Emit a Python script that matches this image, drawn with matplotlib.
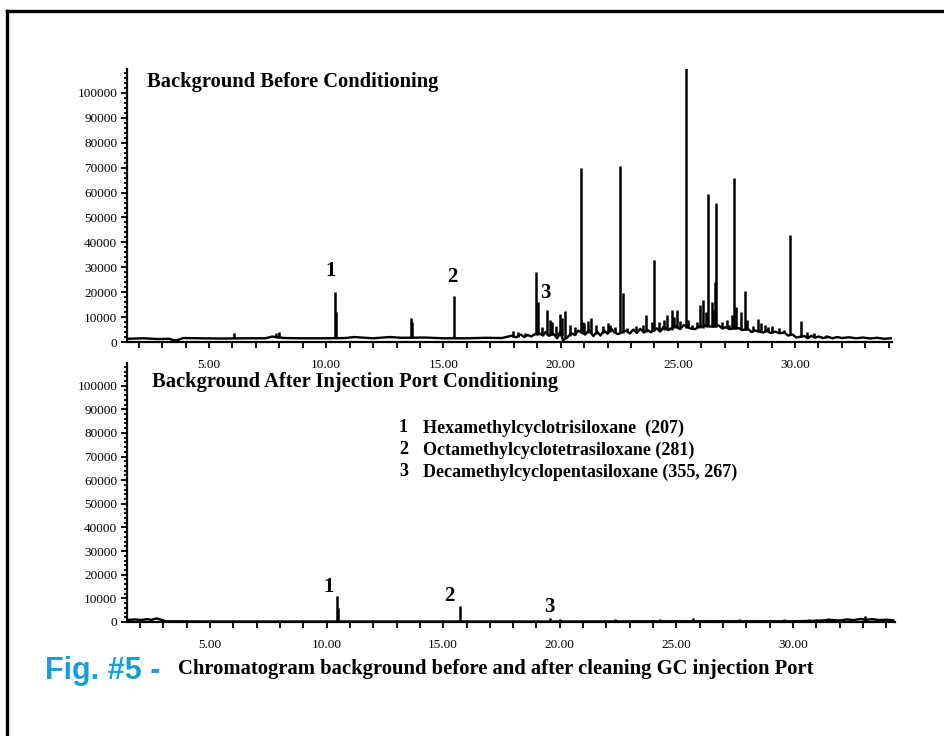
import matplotlib
matplotlib.use("Agg")
import matplotlib.pyplot as plt
from matplotlib.lines import Line2D
from matplotlib.ticker import MultipleLocator, FormatStrFormatter

plt.rcParams['font.family'] = ['Liberation Serif', 'DejaVu Serif']

# ---- data: top chromatogram (before conditioning) ----
top_base_t = [1.55, 2.2, 2.8, 3.3, 3.5, 3.7, 3.9, 4.6, 5.5, 6.6, 7.4, 7.7, 8.2, 9.0, 10.0,
              10.8, 11.2, 12.0, 12.7, 13.2, 14.2, 15.0, 16.0, 16.8, 17.5, 17.9, 18.1, 18.3,
              18.45, 18.6, 18.75, 18.9, 19.1, 19.25, 19.35, 19.5, 19.7, 19.85, 20.0, 20.1,
              20.3, 20.45, 20.6, 20.75, 21.05, 21.2, 21.4, 21.55, 21.7, 21.85, 22.0, 22.15,
              22.3, 22.45, 22.8, 22.95, 23.1, 23.25, 23.4, 23.55, 23.7, 23.85, 24.1, 24.25,
              24.4, 24.6, 24.85, 25.1, 25.25, 25.55, 25.75, 25.9, 26.2, 26.4, 26.75, 26.9,
              27.05, 27.2, 27.6, 27.75, 28.0, 28.15, 28.3, 28.65, 28.8, 28.95, 29.15, 29.35,
              29.55, 29.7, 29.9, 30.05, 30.4, 30.55, 30.7, 30.85, 31.0, 31.2, 31.4, 31.6,
              31.8, 32.0, 32.3, 32.6, 32.9, 33.2, 33.5, 33.8, 34.1]
top_base_v = [1300, 1500, 1200, 1300, 700, 900, 1600, 1500, 1400, 1500, 1500, 2200, 1600, 1500, 1500,
              1600, 2000, 1500, 2000, 1700, 1800, 1500, 1500, 1700, 1600, 2500, 1900, 3000,
              2000, 2800, 2200, 3200, 3500, 2600, 4000, 2500, 3200, 1500, 4500, 600,
              2000, 3600, 2800, 4600, 3000, 4800, 2400, 4200, 2600, 4700, 3300, 5400,
              3800, 3200, 4600, 3400, 5000, 3600, 5300, 3800, 4900, 3900, 5500, 4200,
              6200, 4800, 6500, 5200, 6800, 5400, 5200, 6200, 6800, 6200, 6600, 5400,
              6000, 5200, 5600, 4800, 5200, 4000, 4600, 3800, 4600, 3600, 4200, 3500,
              3800, 2600, 3000, 1800, 2400, 1500, 2600, 1700, 2200, 1600, 2100, 1500,
              2000, 1600, 1900, 1500, 1800, 1400, 1700, 1300, 1500]

# peaks: retention time, apex intensity, intensity of the baseline under the peak
top_peak_t = [6.05, 7.85, 8.0, 10.36, 10.42, 13.62, 13.66, 15.47, 17.95, 18.97, 19.05, 19.43,
              19.64, 19.97, 20.2, 20.85, 20.95, 21.3, 22.0, 22.54, 22.67, 23.66, 24.0, 24.55,
              24.73, 24.98, 25.36, 25.45, 25.95, 26.07, 26.3, 26.45, 26.57, 26.64, 27.3, 27.4,
              27.5, 27.87, 28.41, 28.55, 29.0, 29.79, 30.26,
              18.2, 18.5, 19.2, 19.55, 19.8, 20.05, 20.4, 20.6, 21.0, 21.15, 21.5, 21.8,
              22.1, 22.3, 22.85, 23.2, 23.5, 23.9, 24.2, 24.4, 24.85, 25.1, 25.6, 25.8,
              26.2, 26.5, 26.9, 27.1, 27.2, 27.7, 27.95, 28.2, 28.7, 28.85, 29.3, 29.55,
              30.5, 30.8, 31.3]
top_peak_h = [3800, 3500, 4200, 20000, 12000, 9500, 8000, 18500, 4500, 28000, 16000, 12800,
              8000, 11200, 12400, 70000, 8000, 9500, 7500, 70700, 19800, 10800, 32800, 11000,
              13000, 12800, 112000, 9000, 15000, 17000, 59500, 16000, 24000, 55800, 11000, 66000,
              14000, 20500, 9300, 7500, 6500, 43000, 8400,
              4000, 3800, 6000, 9000, 6500, 9800, 7000, 6000, 7500, 8500, 7000, 6500,
              7000, 6000, 5500, 6500, 7000, 8000, 8000, 9000, 10000, 8500, 7000, 8000,
              12000, 13000, 8000, 9000, 7000, 12000, 9000, 6500, 7000, 6000, 5500, 5000,
              4000, 3500, 3000]
top_peak_b = [1500, 1800, 1800, 1500, 1500, 1700, 1700, 1500, 2000, 2800, 2800, 2800,
              2800, 2500, 1500, 3500, 3500, 3500, 3800, 3800, 3800, 4000, 4300, 5000,
              5000, 5500, 5500, 5500, 5600, 5800, 6000, 6000, 6000, 6000, 5500, 5500,
              5400, 5000, 4200, 4200, 3800, 2800, 2000,
              2200, 2300, 3000, 2800, 2500, 2500, 2500, 3000, 3500, 3500, 3300, 3500,
              4000, 4000, 4000, 4200, 4300, 4300, 4500, 5000, 5500, 5500, 5400, 5500,
              6000, 6000, 5600, 5500, 5400, 5000, 4800, 4300, 4000, 4000, 3600, 3500,
              2000, 2000, 1800]

# ---- data: bottom chromatogram (after conditioning) ----
bot_base_t = [1.5, 1.8, 2.0, 2.3, 2.5, 2.7, 2.9, 3.0, 3.1, 5.0, 10.0, 15.0, 20.0, 25.0, 30.0,
              31.0, 31.6, 32.0, 32.3, 32.6, 32.9, 33.1, 33.4, 33.7, 34.0, 34.3]
bot_base_v = [900, 1100, 800, 1200, 900, 1500, 1000, 700, 300, 200, 200, 200, 200, 300, 300,
              500, 900, 600, 1100, 800, 1300, 900, 1200, 800, 1000, 700]

bot_peak_t = [10.45, 10.5, 15.72, 19.6, 20.0, 22.35, 23.3, 24.3, 25.7, 26.6, 27.7, 28.9,
              29.6, 30.2, 30.7, 31.0, 31.5, 33.1]
bot_peak_h = [11000, 6000, 6800, 1500, 1200, 1300, 1000, 1300, 1600, 1000, 1300, 1000,
              1100, 1000, 1200, 1400, 1500, 2600]

# peak number labels (time, intensity)
top_lab_t = [10.2, 15.37, 19.33]
top_lab_y = [28500, 26100, 19700]
bot_lab_t = [10.1, 15.25, 19.54]
bot_lab_y = [14800, 11000, 6400]
lab_txt = ['1', '2', '3']

compounds = ['Hexamethylcyclotrisiloxane  (207)',
             'Octamethylcyclotetrasiloxane (281)',
             'Decamethylcyclopentasiloxane (355, 267)']

fig = plt.figure(figsize=(9.45, 7.36), dpi=100)

ax1 = fig.add_axes([0.1344, 0.5353, 0.8096, 0.3709])
ax2 = fig.add_axes([0.1344, 0.1549, 0.8126, 0.3519])


def style_axis(ax, xmin, xmax):
    ax.set_xlim(xmin, xmax)
    ax.set_ylim(0, 109600)
    for s in ['top', 'right']:
        ax.spines[s].set_visible(False)
    for s in ['left', 'bottom']:
        ax.spines[s].set_linewidth(1.6)
    ax.xaxis.set_major_locator(MultipleLocator(5))
    ax.xaxis.set_minor_locator(MultipleLocator(1))
    ax.xaxis.set_major_formatter(FormatStrFormatter('%.2f'))
    ax.yaxis.set_major_locator(MultipleLocator(10000))
    ax.yaxis.set_minor_locator(MultipleLocator(2000))
    ax.tick_params(axis='both', which='both', direction='out', width=1.3, labelsize=9.5)
    ax.tick_params(axis='x', which='both', length=4, pad=8)
    ax.tick_params(axis='y', which='major', length=4, pad=3)
    ax.tick_params(axis='y', which='minor', length=2.5)
    ax.set_facecolor('none')


style_axis(ax1, 1.5, 34.14)
style_axis(ax2, 1.44, 34.37)

ax1.plot(top_base_t, top_base_v, color='black', lw=1.7)
ax1.vlines(top_peak_t, top_peak_b, top_peak_h, color='black', lw=1.8)
ax2.plot(bot_base_t, bot_base_v, color='black', lw=1.7)
ax2.vlines(bot_peak_t, 0, bot_peak_h, color='black', lw=1.8)

for t, y, s in zip(top_lab_t, top_lab_y, lab_txt):
    ax1.text(t, y, s, fontsize=15, fontweight='bold', ha='center', va='center')
for t, y, s in zip(bot_lab_t, bot_lab_y, lab_txt):
    ax2.text(t, y, s, fontsize=15, fontweight='bold', ha='center', va='center')

fig.text(147 / 945, 1 - 82 / 736, 'Background Before Conditioning',
         fontsize=14.8, fontweight='bold', va='center')
fig.text(152 / 945, 1 - 382 / 736, 'Background After Injection Port Conditioning',
         fontsize=14.8, fontweight='bold', va='center')

for i, name in enumerate(compounds):
    y = 1 - (428 + 22 * i) / 736
    fig.text(399 / 945, y, str(i + 1), fontsize=13, fontweight='bold', va='center')
    fig.text(423 / 945, y, name, fontsize=13, fontweight='bold', va='center')

fig.text(45 / 945, 1 - 671 / 736, 'Fig. #5 -', fontsize=22, fontweight='bold',
         color='#14A0D6', family=['Liberation Sans'], va='center')
fig.text(178 / 945, 1 - 669 / 736,
         'Chromatogram background before and after cleaning GC injection Port',
         fontsize=14.9, fontweight='bold', va='center')

# outer frame (runs off the right and bottom edges)
fig.add_artist(Line2D([7 / 945, 1.0], [1 - 11 / 736, 1 - 11 / 736],
                      transform=fig.transFigure, color='black', lw=2.4))
fig.add_artist(Line2D([7 / 945, 7 / 945], [1 - 11 / 736, 0.0],
                      transform=fig.transFigure, color='black', lw=2.4))

fig.savefig('out.png', dpi=100)
